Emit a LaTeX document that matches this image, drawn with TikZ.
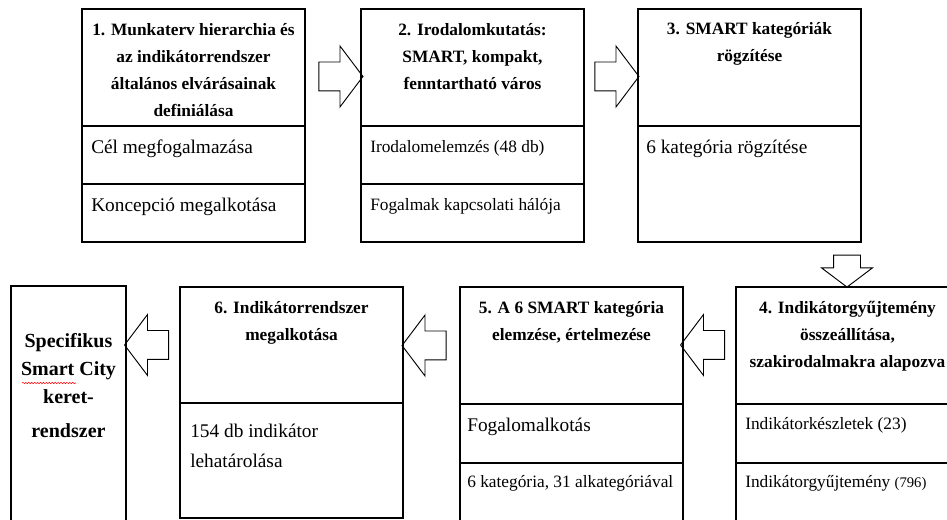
\documentclass[tikz,border=0pt]{standalone}
\usepackage{fontspec}
\setmainfont{Liberation Serif}
\usetikzlibrary{positioning,shapes.arrows,decorations.pathmorphing}

\begin{document}
\begin{tikzpicture}[
  x=0.75pt, y=-0.75pt,
  part/.style={draw,line width=1.1pt,rectangle,anchor=north west,inner sep=0pt,outer sep=0pt,minimum width=167.25pt},
  headtxt/.style={anchor=north,align=center,inner sep=0pt,font=\fontsize{13}{20.25}\selectfont\bfseries},
  subtxt/.style={anchor=north west,align=left,inner sep=0pt,font=\fontsize{13}{19}\selectfont},
  bigtxt/.style={subtxt,font=\fontsize{14.5}{22.5}\selectfont},
  flow/.style={single arrow,draw,line width=0.7pt,inner xsep=0pt,inner ysep=10.5pt,minimum height=33pt,single arrow head extend=12pt,single arrow tip angle=106,single arrow head indent=0pt}
]
\useasboundingbox (0,0) rectangle (947,520);

% first row
\node[part,minimum height=87.75pt] (h1) at (82,9) {};
\node[part,minimum height=43.5pt,below=0pt of h1] (a1) {};
\node[part,minimum height=43.5pt,below=0pt of a1] (b1) {};
\node[headtxt,below=10.5pt of h1.north] (t1)
  {1. Munkaterv hierarchia és\\az indikátorrendszer\\általános elvárásainak\\definiálása};
\node[bigtxt,below right=10.5pt and 6.75pt of a1.north west] (ta1) {Cél megfogalmazása};
\node[bigtxt,below right=10.5pt and 6.75pt of b1.north west] (tb1) {Koncepció megalkotása};

\node[part,minimum height=87.75pt] (h2) at (361,9) {};
\node[part,minimum height=43.5pt,below=0pt of h2] (a2) {};
\node[part,minimum height=43.5pt,below=0pt of a2] (b2) {};
\node[headtxt,below=10.5pt of h2.north] (t2)
  {2. Irodalomkutatás:\\SMART, kompakt,\\fenntartható város};
\node[subtxt,below right=11pt and 6.75pt of a2.north west] (ta2) {Irodalomelemzés (48 db)};
\node[subtxt,below right=10.5pt and 6.75pt of b2.north west] (tb2) {Fogalmak kapcsolati hálója};

\node[part,minimum height=87.75pt] (h3) at (638,9) {};
\node[part,minimum height=87pt,below=0pt of h3] (a3) {};
\node[headtxt,below=10pt of h3.north] (t3) {3. SMART kategóriák\\rögzítése};
\node[bigtxt,below right=10.5pt and 6pt of a3.north west] (ta3) {6 kategória rögzítése};

\node[flow] (ar1) at (335.5,76.5) {};
\node[flow] (ar2) at (611.5,76.5) {};
\node[flow,rotate=-90,minimum height=24pt,inner ysep=9.75pt,single arrow head extend=9pt] (ar3) at (847,266) {};

% second row
\node[part,minimum height=87.75pt] (h4) at (736,287) {};
\node[part,minimum height=44.25pt,below=0pt of h4] (a4) {};
\node[part,minimum height=46pt,below=0pt of a4] (b4) {};
\node[headtxt,below=10.5pt of h4.north] (t4)
  {4. Indikátorgyűjtemény\\összeállítása,\\szakirodalmakra alapozva};
\node[subtxt,below right=10pt and 6.75pt of a4.north west] (ta4) {Indikátorkészletek (23)};
\node[subtxt,below right=9pt and 6.75pt of b4.north west] (tb4)
  {Indikátorgyűjtemény {\fontsize{11}{13}\selectfont(796)}};

\node[part,minimum height=87.75pt] (h5) at (460,287) {};
\node[part,minimum height=44.25pt,below=0pt of h5] (a5) {};
\node[part,minimum height=46pt,below=0pt of a5] (b5) {};
\node[headtxt,below=10.5pt of h5.north] (t5) {5. A 6 SMART kategória\\elemzése, értelmezése};
\node[bigtxt,below right=10pt and 5.25pt of a5.north west] (ta5) {Fogalomalkotás};
\node[subtxt,below right=9pt and 5.25pt of b5.north west] (tb5) {6 kategória, 31 alkategóriával};

\node[part,minimum height=87pt] (h6) at (180,287) {};
\node[part,minimum height=86.25pt,below=0pt of h6] (a6) {};
\node[headtxt,below=10.5pt of h6.north] (t6) {6. Indikátorrendszer\\megalkotása};
\node[bigtxt,below right=15.75pt and 7.5pt of a6.north west] (ta6) {154 db indikátor\\lehatárolása};

\node[part,minimum width=86.25pt,minimum height=180pt] (fin) at (11,286) {};
\node[headtxt,font=\fontsize{15}{21}\selectfont\bfseries,below=35pt of fin.north] (tfin)
  {Specifikus\\Smart City\\keret-\\[5pt]rendszer};
\draw[red,line width=0.4pt,decorate,decoration={snake,amplitude=0.5pt,segment length=2.2pt}]
  (22,383) -- (76,383);

\node[flow,rotate=180] (ar4) at (708,345) {};
\node[flow,rotate=180] (ar5) at (429.5,345.5) {};
\node[flow,rotate=180] (ar6) at (152,345) {};
\end{tikzpicture}
\end{document}
